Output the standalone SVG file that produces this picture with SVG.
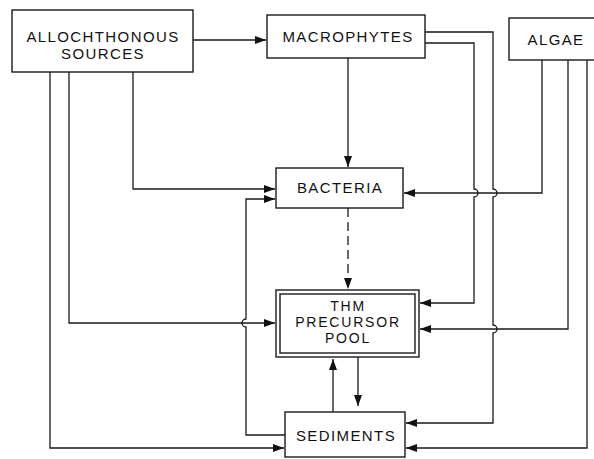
<svg xmlns="http://www.w3.org/2000/svg" width="594" height="459" viewBox="0 0 594 459">
<style>
.box{fill:#fff;stroke:#1a1a1a;stroke-width:1.4}
.lbl{font-family:"Liberation Sans",Arial,Helvetica,sans-serif;font-size:15px;fill:#111;letter-spacing:1.4px;text-anchor:middle}
.sm{font-size:14px;letter-spacing:1.8px}
.c{fill:none;stroke:#1a1a1a;stroke-width:1.3}
.dash{stroke-dasharray:9 5}
</style>
<defs>
<marker id="ah" markerWidth="11" markerHeight="8" refX="11" refY="4" orient="auto" markerUnits="userSpaceOnUse">
<path d="M0,0 L11,4 L0,8 z" fill="#111"/>
</marker>
</defs>
<rect width="594" height="459" fill="#fff"/>
<g id="connectors">
<path class="c" d="M193 40 H266" marker-end="url(#ah)"/>
<path class="c" d="M348 58 V167" marker-end="url(#ah)"/>
<path class="c dash" d="M348 208 V289" marker-end="url(#ah)"/>
<path class="c" d="M133 72 V189 H275" marker-end="url(#ah)"/>
<path class="c" d="M285 435 H246 V327 A4 4 0 0 1 246 319 V199 H275" marker-end="url(#ah)"/>
<path class="c" d="M69 72 V323 H275" marker-end="url(#ah)"/>
<path class="c" d="M50 72 V448 H284" marker-end="url(#ah)"/>
<path class="c" d="M425 43 H474 V189 A4 4 0 0 1 474 197 V303 H420" marker-end="url(#ah)"/>
<path class="c" d="M425 32 H493 V189 A4 4 0 0 1 493 197 V325 A4 4 0 0 1 493 333 V423 H406" marker-end="url(#ah)"/>
<path class="c" d="M542 60 V193 H404" marker-end="url(#ah)"/>
<path class="c" d="M568 60 V329 H420" marker-end="url(#ah)"/>
<path class="c" d="M587 60 V448 H406" marker-end="url(#ah)"/>
<path class="c" d="M358 357 V406" marker-end="url(#ah)"/>
<path class="c" d="M333 412 V359" marker-end="url(#ah)"/>
</g>
<g id="allochthonous">
<rect class="box" x="12" y="10" width="181" height="62"/>
<text class="lbl" x="103" y="42">ALLOCHTHONOUS</text>
<text class="lbl" x="103" y="59">SOURCES</text>
</g>
<g id="macrophytes">
<rect class="box" x="267" y="15" width="158" height="43"/>
<text class="lbl" x="348" y="42">MACROPHYTES</text>
</g>
<g id="algae">
<rect class="box" x="509" y="18" width="100" height="42"/>
<text class="lbl" x="556" y="45">ALGAE</text>
</g>
<g id="bacteria">
<rect class="box" x="276" y="168" width="127" height="40"/>
<text class="lbl" x="340" y="193">BACTERIA</text>
</g>
<g id="thm">
<rect class="box" x="276" y="290" width="143" height="67"/>
<rect class="box" x="280" y="294" width="135" height="59"/>
<text class="lbl sm" x="348" y="311">THM</text>
<text class="lbl sm" x="348" y="327">PRECURSOR</text>
<text class="lbl sm" x="348" y="343">POOL</text>
</g>
<g id="sediments">
<rect class="box" x="285" y="412" width="120" height="45"/>
<text class="lbl" x="346" y="441">SEDIMENTS</text>
</g>
</svg>
